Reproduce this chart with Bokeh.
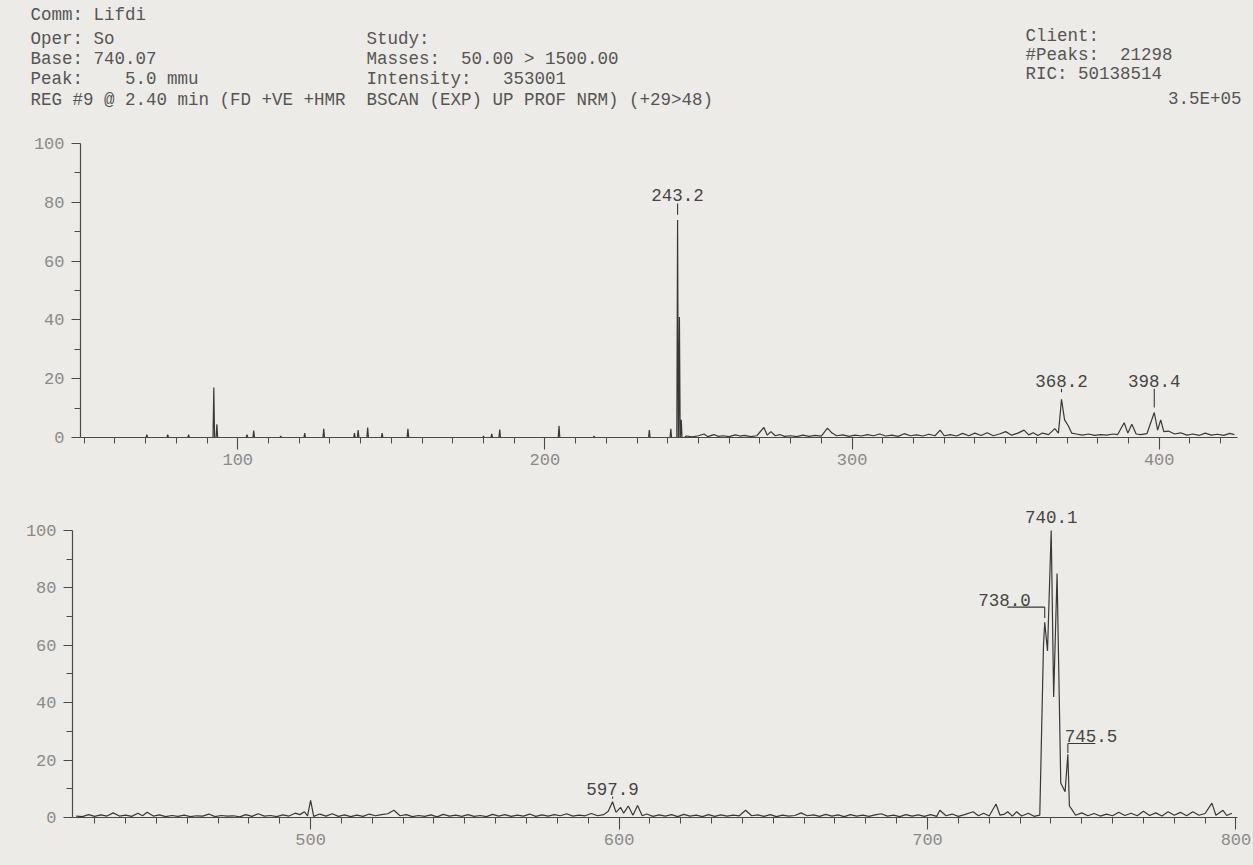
from bokeh.plotting import figure
from bokeh.layouts import column
from bokeh.models import Range1d, FixedTicker, Label
from bokeh.embed import file_html
from bokeh.resources import INLINE
from bokeh.core.properties import value

# ---------------- data ----------------
header_left = ["Comm: Lifdi", "Oper: So", "Base: 740.07", "Peak:    5.0 mmu"]
header_mid = ["Study:", "Masses:  50.00 > 1500.00", "Intensity:   353001"]
header_right = ["Client:", "#Peaks:  21298", "RIC: 50138514"]
scan_line = "REG #9 @ 2.40 min (FD +VE +HMR  BSCAN (EXP) UP PROF NRM) (+29>48)"
full_scale = "3.5E+05"

# upper range: centroid-like sticks (m/z, % relative intensity)
top_stick_mz = [70.4, 77.2, 84.0, 92.2, 93.2, 103.0, 105.2, 114.0, 121.8, 128.0,
                138.0, 139.2, 142.3, 147.0, 155.4, 180.0, 182.7, 185.3, 204.6,
                216.0, 234.0, 241.0, 243.2, 243.8, 244.4]
top_stick_int = [1.0, 1.0, 1.0, 17.0, 4.5, 1.0, 2.4, 0.5, 1.5, 3.0,
                 1.5, 2.5, 3.4, 1.5, 3.0, 0.5, 1.2, 2.7, 4.0,
                 0.5, 2.5, 3.0, 74.0, 41.0, 6.0]

# upper range: profile trace above m/z 245
top_prof_mz = [245.5, 246.0, 248.0, 250.0, 251.8, 253.0, 255.0, 256.5, 258.0, 260.0,
               262.0, 263.5, 265.0, 267.0, 269.0, 271.3, 272.4, 273.6, 275.0, 276.5,
               278.0, 280.0, 282.0, 284.0, 286.0, 288.0, 290.0, 292.0, 293.5, 295.0,
               297.0, 299.0, 301.0, 303.0, 305.0, 307.0, 309.0, 311.0, 313.0, 315.0,
               317.0, 319.0, 321.0, 323.0, 325.0, 327.0, 328.7, 330.0, 332.0, 334.0,
               336.0, 338.0, 340.0, 342.0, 344.0, 346.0, 348.0, 350.0, 352.0, 354.0,
               356.0, 357.5, 359.0, 360.5, 362.0, 364.0, 366.0, 367.2, 368.2, 369.2,
               370.4, 371.5, 373.0, 375.0, 377.0, 379.0, 381.0, 383.0, 385.0, 386.5,
               388.6, 389.8, 391.1, 392.5, 394.0, 396.0, 398.4, 399.5, 400.5, 401.5,
               403.0, 405.0, 407.0, 409.0, 411.0, 413.0, 415.0, 417.0, 419.0, 421.0,
               423.0, 424.5]
top_prof_int = [0.0, 0.5, 0.2, 0.6, 1.2, 0.3, 1.0, 0.4, 0.6, 0.3,
                0.9, 0.5, 0.7, 0.3, 0.6, 3.4, 0.8, 2.0, 0.6, 1.0,
                0.4, 0.6, 0.3, 0.8, 0.4, 0.7, 0.5, 3.2, 1.5, 0.6,
                0.9, 0.4, 0.8, 0.5, 1.0, 0.6, 1.2, 0.5, 0.8, 0.4,
                1.3, 0.6, 0.9, 0.5, 1.1, 0.6, 2.5, 0.6, 1.0, 0.5,
                1.4, 0.6, 1.5, 0.7, 1.6, 0.6, 1.2, 2.0, 0.8, 1.5,
                2.5, 0.9, 1.6, 0.7, 1.5, 1.0, 3.0, 1.5, 13.0, 6.0,
                4.0, 1.5, 1.2, 0.8, 1.2, 0.7, 1.0, 0.8, 1.2, 1.0,
                5.0, 1.5, 4.5, 1.2, 1.0, 1.3, 8.5, 2.5, 6.0, 2.0,
                2.2, 1.2, 1.6, 0.8, 1.2, 0.7, 1.5, 0.8, 1.1, 0.7,
                1.4, 1.0]

# lower range: profile trace
bot_mz = [424.0, 426.0, 428.0, 430.0, 432.0, 434.0, 436.0, 438.0, 440.0, 442.0,
          444.0, 445.5, 447.0, 449.0, 451.0, 453.0, 455.0, 457.0, 459.0, 461.0,
          463.0, 465.0, 467.0, 469.0, 471.0, 473.0, 475.0, 477.0, 479.0, 481.0,
          483.0, 485.0, 487.0, 489.0, 491.0, 493.0, 495.0, 496.5, 498.0, 499.0,
          500.0, 501.0, 503.0, 505.0, 507.0, 509.0, 511.0, 513.0, 515.0, 517.0,
          519.0, 521.0, 523.0, 525.0, 527.0, 529.0, 531.0, 533.0, 535.0, 537.0,
          539.0, 541.0, 543.0, 545.0, 547.0, 549.0, 551.0, 553.0, 555.0, 557.0,
          559.0, 561.0, 563.0, 565.0, 567.0, 569.0, 571.0, 573.0, 575.0, 577.0,
          579.0, 581.0, 583.0, 585.0, 587.0, 589.0, 591.0, 593.0, 595.0, 596.5,
          597.9, 599.0, 600.5, 601.5, 603.0, 604.5, 606.0, 607.5, 609.0, 611.0,
          613.0, 615.0, 617.0, 619.0, 621.0, 623.0, 625.0, 627.0, 629.0, 631.0,
          633.0, 635.0, 637.0, 639.0, 641.0, 643.0, 645.0, 647.0, 649.0, 651.0,
          653.0, 655.0, 657.0, 659.0, 661.0, 663.0, 665.0, 667.0, 669.0, 671.0,
          673.0, 675.0, 677.0, 679.0, 681.0, 683.0, 685.0, 687.0, 689.0, 691.0,
          693.0, 695.0, 697.0, 699.0, 701.0, 703.0, 704.0, 706.0, 708.0, 710.0,
          712.0, 714.8, 716.5, 718.2, 720.0, 722.2, 723.5, 725.0, 726.0, 727.5,
          728.9, 730.5, 732.7, 734.5, 736.4, 737.6, 738.0, 738.9, 740.1, 740.9,
          742.0, 743.2, 744.6, 745.5, 746.0, 747.0, 748.0, 750.0, 752.0, 754.0,
          756.0, 758.0, 760.0, 762.0, 764.0, 766.0, 768.0, 770.0, 772.0, 774.0,
          776.0, 778.0, 780.0, 782.0, 784.0, 786.0, 788.0, 790.0, 792.2, 793.5,
          795.8, 797.0, 798.7]
bot_int = [0.5, 0.3, 1.0, 0.4, 0.9, 0.5, 1.6, 0.5, 0.8, 0.4,
           1.5, 0.6, 1.8, 0.5, 0.9, 0.3, 0.7, 0.4, 0.8, 0.3,
           0.6, 0.5, 1.2, 0.3, 0.7, 0.5, 0.6, 0.2, 1.0, 0.4,
           1.3, 0.5, 0.7, 0.3, 0.9, 0.5, 1.5, 1.0, 2.0, 0.6,
           6.0, 0.4, 1.2, 0.5, 1.3, 0.4, 0.9, 0.3, 0.8, 0.4,
           1.2, 0.6, 1.0, 1.3, 2.5, 0.6, 1.0, 0.3, 0.7, 0.4,
           0.9, 0.2, 1.1, 0.5, 0.8, 0.4, 1.0, 0.4, 0.7, 0.3,
           1.1, 0.5, 1.0, 0.4, 0.8, 0.5, 1.2, 0.4, 0.9, 0.5,
           1.0, 0.6, 1.3, 0.5, 0.8, 0.6, 1.4, 0.6, 1.0, 2.2,
           5.5, 1.8, 3.5, 1.5, 4.0, 0.8, 4.2, 0.6, 1.2, 0.4,
           0.9, 0.5, 1.0, 0.3, 1.1, 0.5, 0.8, 0.3, 1.0, 0.4,
           0.9, 0.5, 0.8, 0.6, 2.5, 0.6, 0.9, 0.4, 1.0, 0.3,
           0.8, 0.5, 0.7, 1.6, 0.6, 0.9, 0.4, 1.1, 0.5, 0.9,
           0.3, 1.0, 0.5, 0.8, 0.4, 0.9, 1.3, 0.5, 0.8, 0.3,
           1.0, 0.5, 0.9, 0.4, 1.0, 0.4, 2.5, 0.6, 1.2, 0.4,
           1.0, 2.0, 0.6, 1.5, 0.5, 4.7, 0.8, 1.2, 2.0, 0.5,
           2.0, 0.5, 1.5, 0.4, 0.8, 60.0, 68.0, 58.0, 100.0, 42.0,
           85.0, 12.0, 9.0, 22.0, 4.0, 2.5, 0.8, 1.6, 0.6, 1.4,
           0.5, 1.2, 0.6, 1.8, 0.7, 1.5, 0.6, 2.2, 0.7, 1.6,
           0.5, 2.0, 0.8, 1.8, 0.6, 2.0, 0.8, 1.4, 5.0, 0.8,
           2.5, 0.7, 1.5]

# annotated peaks (m/z)
top_labels = [243.2, 368.2, 398.4]
bot_labels = [740.1, 738.0, 745.5, 597.9]

# ---------------- styling ----------------
W = 1253
BG = "#ecebe7"
INK = "#383838"
AXIS = "#4a4a4a"
TXT = "#555555"
TICK_TXT = "#8a8a8a"
MONO = "Liberation Mono"
HDR_H = 120
TOP_H = 355
BOT_H = 865 - HDR_H - TOP_H


def keep_spaces(s):
    # runs of blanks would collapse in SVG text; keep the fixed-width columns
    return s.replace("  ", " \u00a0")


def lookup(mz_list, int_list, m):
    return int_list[mz_list.index(m)]


def style_axes(p, xmaj, xmin):
    p.xaxis.ticker = FixedTicker(ticks=xmaj, minor_ticks=xmin)
    p.yaxis.ticker = FixedTicker(ticks=[0, 20, 40, 60, 80, 100],
                                 minor_ticks=[10, 30, 50, 70, 90])
    p.yaxis.bounds = (0, 100)
    for ax in (p.xaxis[0], p.yaxis[0]):
        ax.axis_line_color = AXIS
        ax.axis_line_width = 1.2
        ax.major_tick_line_color = AXIS
        ax.minor_tick_line_color = AXIS
        ax.major_tick_line_width = 1.1
        ax.minor_tick_line_width = 1.0
        ax.major_tick_in = 0
        ax.minor_tick_in = 0
        ax.major_label_text_font = MONO
        ax.major_label_text_font_size = "17px"
        ax.major_label_text_color = TICK_TXT
    p.xaxis.major_tick_out = 12
    p.xaxis.minor_tick_out = 6
    p.xaxis.major_label_standoff = 4
    p.yaxis.major_tick_out = 9
    p.yaxis.minor_tick_out = 6
    p.yaxis.major_label_standoff = 7
    p.grid.visible = False
    p.outline_line_color = None
    p.background_fill_color = BG
    p.border_fill_color = BG


def peak_label(p, x, y, text, align="center", x_offset=0):
    p.add_layout(Label(x=x, y=y, text=text, text_align=align, text_baseline="bottom",
                       x_offset=x_offset, text_font=MONO, text_font_size="17.5px",
                       text_color="#454545"))


# ---------------- header ----------------
hdr = figure(width=W, height=HDR_H, x_range=Range1d(0, W), y_range=Range1d(HDR_H, 0),
             x_axis_type=None, y_axis_type=None, toolbar_location=None,
             output_backend="svg", min_border=0, frame_align=False)
hdr.grid.visible = False
hdr.outline_line_color = None
hdr.background_fill_color = BG
hdr.border_fill_color = BG
hstyle = dict(text_font=value(MONO), text_font_size="17.5px", text_color=TXT,
              text_baseline="middle")
hdr.text(x=[30] * 4, y=[14, 38, 58, 78], text=[keep_spaces(s) for s in header_left], **hstyle)
hdr.text(x=[366] * 3, y=[38, 58, 78], text=[keep_spaces(s) for s in header_mid], **hstyle)
hdr.text(x=[1025] * 3, y=[35, 54, 73], text=[keep_spaces(s) for s in header_right], **hstyle)
hdr.text(x=[30], y=[99], text=[keep_spaces(scan_line)], **hstyle)
hdr.text(x=[1241], y=[98], text=[full_scale], text_align="right", **hstyle)

# ---------------- upper panel ----------------
top = figure(width=W, height=TOP_H, x_range=Range1d(48.8, 425.5), y_range=Range1d(0, 100),
             toolbar_location=None, output_backend="svg", frame_align=False,
             min_border_left=80, min_border_right=16, min_border_top=23,
             min_border_bottom=TOP_H - 23 - 294)
style_axes(top, [100, 200, 300, 400], list(range(50, 430, 10)))

hw = 0.25
xs, ys = [48.8], [0.0]
for m, h in zip(top_stick_mz, top_stick_int):
    xs += [m - hw, m, m + hw]
    ys += [0.0, h, 0.0]
xs += top_prof_mz
ys += top_prof_int
top.line(xs, ys, line_color=INK, line_width=1.2)

# labels with short leaders
h243 = lookup(top_stick_mz, top_stick_int, 243.2)
top.segment(x0=[243.2], y0=[h243 + 1.8], x1=[243.2], y1=[h243 + 5.6],
            line_color=INK, line_width=1.1)
peak_label(top, 243.2, h243 + 6.3, f"{top_labels[0]:.1f}")
for m, y0 in ((368.2, 15.4), (398.4, 10.2)):
    top.segment(x0=[m], y0=[y0], x1=[m], y1=[16.6], line_color=INK, line_width=1.1)
    peak_label(top, m, 17.2, f"{m:.1f}")

# ---------------- lower panel ----------------
# range runs a little past 100 so the base-peak label has room; the axis stops at 100
BOT_TOP = 32
BOT_FRAME = 310
bot = figure(width=W, height=BOT_H, x_range=Range1d(422.8, 800.5), y_range=Range1d(0, 108),
             toolbar_location=None, output_backend="svg", frame_align=False,
             min_border_left=72, min_border_right=16, min_border_top=BOT_TOP,
             min_border_bottom=BOT_H - BOT_TOP - BOT_FRAME)
style_axes(bot, [500, 600, 700, 800], list(range(430, 801, 10)))
bot.line(bot_mz, bot_int, line_color=INK, line_width=1.2)

h740 = lookup(bot_mz, bot_int, 740.1)
peak_label(bot, 740.1, h740 + 2.6, f"{bot_labels[0]:.1f}")

h738 = lookup(bot_mz, bot_int, 738.0)
bot.segment(x0=[725.9, 738.0], y0=[h738 + 5.3, h738 + 5.3], x1=[738.0, 738.0],
            y1=[h738 + 5.3, h738 + 1.5], line_color=INK, line_width=1.1)
peak_label(bot, 738.0, h738 + 5.8, f"{bot_labels[1]:.1f}", align="right", x_offset=-14)

h745 = lookup(bot_mz, bot_int, 745.5)
bot.segment(x0=[745.5, 745.5], y0=[h745 + 3.8, h745 + 0.5], x1=[754.4, 745.5],
            y1=[h745 + 3.8, h745 + 3.8], line_color=INK, line_width=1.1)
peak_label(bot, 745.5, h745 + 4.4, f"{bot_labels[2]:.1f}", align="left", x_offset=-3)

h598 = lookup(bot_mz, bot_int, 597.9)
bot.segment(x0=[597.9], y0=[h598 + 1.0], x1=[597.9], y1=[h598 + 1.8],
            line_color=INK, line_width=1.0)
peak_label(bot, 597.9, h598 + 2.3, f"{bot_labels[3]:.1f}")

layout = column(hdr, top, bot, spacing=0)
layout.background = BG
open("out.html", "w").write(file_html(layout, INLINE))
